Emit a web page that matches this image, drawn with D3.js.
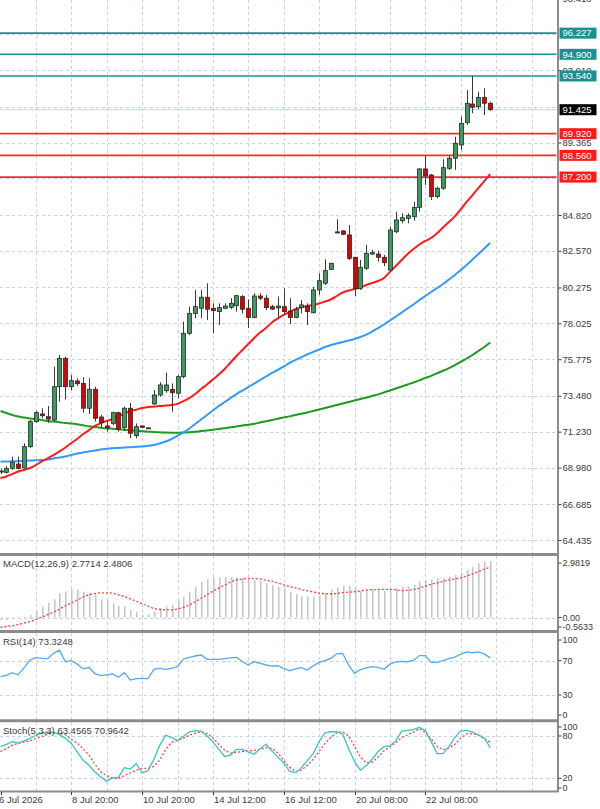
<!DOCTYPE html>
<html><head><meta charset="utf-8">
<script src="https://cdn.jsdelivr.net/npm/d3@7"></script>
<style>body{margin:0;background:#fff}svg{display:block;font-family:"Liberation Sans",Arial,sans-serif}</style>
</head><body><svg id="c" width="600" height="809"></svg>
<script>
// ---------------- DATA ----------------
const opens=[68.70,68.68,68.93,69.20,68.95,70.29,71.86,72.34,72.17,71.96,74.05,75.83,74.05,74.41,74.26,72.70,73.89,72.15,71.59,71.75,72.42,71.50,72.70,70.98,71.59,71.47,72.97,73.53,73.80,73.89,73.64,74.68,77.40,78.65,78.97,79.66,78.97,78.76,78.97,79.03,79.13,79.70,78.97,78.40,79.74,79.60,79.07,78.99,79.07,78.80,78.40,79.01,79.11,78.69,80.12,80.54,81.41,83.76,83.82,83.57,82.17,80.22,81.48,82.37,82.37,82.17,81.37,83.77,84.46,84.61,84.71,85.30,87.71,87.33,85.97,86.50,87.75,88.38,89.21,90.61,91.78,91.61,92.20,91.83];
const highs=[68.89,69.08,69.66,69.66,70.50,71.96,72.53,72.70,72.84,75.31,76.04,75.93,74.78,74.58,74.64,74.58,74.05,72.28,71.86,72.48,72.48,72.80,73.03,71.75,71.62,71.49,73.84,74.33,74.93,74.26,74.78,78.13,79.07,80.12,80.12,80.54,79.28,79.28,79.28,79.60,79.80,79.80,79.53,79.91,79.91,79.80,79.18,79.70,80.22,79.60,79.07,79.49,79.28,80.32,81.16,82.04,81.83,84.55,83.88,84.19,82.19,82.00,82.94,82.63,82.58,82.31,84.09,85.03,84.93,84.93,85.65,87.75,88.52,87.39,86.60,88.31,88.52,89.73,90.99,92.66,93.54,92.55,92.77,91.93];
const lows=[68.57,68.62,68.83,68.87,68.92,70.19,71.79,72.07,71.79,71.86,73.11,73.26,73.84,74.09,72.42,72.34,71.86,71.50,71.23,71.65,71.23,71.27,70.83,70.81,71.46,71.45,72.90,73.42,73.67,72.48,73.32,74.58,77.29,78.34,78.34,78.23,77.40,77.92,78.91,78.91,78.76,78.65,77.73,78.34,79.49,78.86,78.86,78.28,78.55,77.98,78.34,78.65,77.92,78.65,79.80,80.43,81.37,83.67,83.57,82.00,79.74,80.12,81.37,82.31,81.89,81.62,81.26,83.67,84.30,84.30,84.46,85.03,86.70,85.76,85.87,86.39,87.64,87.64,88.90,90.47,91.20,91.45,91.09,91.36];
const closes=[68.76,68.93,69.31,68.93,70.29,71.86,72.42,72.23,72.02,74.05,75.83,74.05,74.43,74.24,72.70,73.89,72.07,71.79,71.46,72.42,71.38,72.70,71.13,71.54,71.50,71.47,73.53,74.16,74.16,73.67,74.68,77.40,78.65,79.07,79.66,78.91,78.82,79.01,79.11,79.28,79.76,78.91,78.40,79.74,79.60,79.01,78.92,79.11,78.76,78.40,78.91,79.18,78.76,80.12,80.70,81.33,81.79,83.76,83.61,82.10,80.22,81.54,82.42,82.46,82.17,81.83,83.88,84.51,84.65,84.78,85.30,87.71,87.27,85.97,86.50,87.79,88.38,89.32,90.57,91.83,91.58,92.20,91.83,91.425];

const maRed=[68.32,68.42,68.57,68.73,68.83,68.95,69.14,69.36,69.55,69.77,69.99,70.24,70.52,70.77,71.08,71.33,71.59,71.77,71.90,72.02,72.21,72.36,72.53,72.61,72.71,72.78,72.80,72.84,72.87,72.90,72.97,73.15,73.34,73.59,73.91,74.19,74.50,74.82,75.16,75.57,75.98,76.35,76.73,77.11,77.45,77.73,78.08,78.33,78.55,78.74,78.92,79.03,79.11,79.18,79.27,79.39,79.52,79.74,79.96,80.08,80.18,80.27,80.43,80.56,80.68,80.87,81.25,81.62,82.00,82.37,82.69,82.97,83.19,83.38,83.67,84.04,84.38,84.73,85.17,85.64,86.07,86.51,86.95,87.39];
const maBlue=[69.35,69.36,69.37,69.39,69.40,69.42,69.43,69.45,69.48,69.55,69.61,69.67,69.77,69.86,69.92,69.99,70.05,70.11,70.16,70.19,70.21,70.24,70.26,70.28,70.30,70.34,70.39,70.49,70.61,70.77,70.96,71.18,71.43,71.71,71.99,72.28,72.56,72.84,73.09,73.34,73.59,73.81,74.03,74.25,74.47,74.69,74.91,75.10,75.32,75.54,75.73,75.91,76.07,76.23,76.38,76.54,76.67,76.76,76.85,76.95,77.04,77.17,77.32,77.51,77.73,77.95,78.20,78.45,78.70,78.96,79.21,79.49,79.74,79.99,80.24,80.49,80.77,81.06,81.37,81.68,82.03,82.37,82.72,83.06];
const maGreen=[72.53,72.40,72.28,72.18,72.12,72.06,72.01,71.96,71.90,71.86,71.82,71.77,71.74,71.69,71.63,71.57,71.52,71.47,71.44,71.41,71.38,71.35,71.32,71.28,71.25,71.23,71.21,71.19,71.17,71.16,71.16,71.17,71.19,71.22,71.27,71.30,71.35,71.40,71.45,71.50,71.55,71.62,71.66,71.72,71.81,71.88,71.96,72.04,72.12,72.19,72.28,72.36,72.43,72.53,72.62,72.71,72.81,72.90,73.00,73.09,73.19,73.28,73.37,73.47,73.57,73.69,73.81,73.94,74.06,74.19,74.31,74.45,74.60,74.73,74.89,75.05,75.22,75.41,75.60,75.82,76.04,76.29,76.54,76.82];

const macdHist=[-0.12,-0.12,-0.07,-0.02,0.03,0.13,0.37,0.54,0.72,0.90,1.20,1.27,1.39,1.38,1.27,1.23,1.11,0.90,0.87,0.70,0.57,0.57,0.37,0.29,0.13,0.16,0.29,0.46,0.54,0.62,0.90,1.03,1.27,1.52,1.77,1.88,1.98,1.98,1.98,1.98,1.98,1.93,1.93,1.85,1.80,1.69,1.60,1.52,1.39,1.27,1.16,1.06,1.03,1.03,1.06,1.20,1.36,1.49,1.56,1.56,1.44,1.32,1.36,1.39,1.36,1.32,1.36,1.44,1.49,1.52,1.60,1.77,1.85,1.88,1.93,1.93,2.01,2.10,2.21,2.34,2.50,2.67,2.75,2.77];
const macdSignal=[-0.48,-0.44,-0.40,-0.34,-0.27,-0.20,-0.10,0.02,0.14,0.27,0.42,0.58,0.72,0.87,1.00,1.12,1.18,1.22,1.22,1.20,1.12,1.03,0.92,0.81,0.68,0.56,0.45,0.40,0.38,0.38,0.42,0.50,0.62,0.78,0.95,1.12,1.30,1.45,1.60,1.75,1.85,1.90,1.93,1.92,1.89,1.84,1.79,1.70,1.61,1.52,1.46,1.38,1.32,1.26,1.20,1.18,1.16,1.19,1.23,1.25,1.27,1.31,1.35,1.37,1.39,1.39,1.39,1.37,1.33,1.34,1.38,1.45,1.55,1.64,1.71,1.78,1.85,1.90,1.96,2.05,2.15,2.26,2.38,2.48];
const rsi=[51.3,53,56,53.5,62,70.5,73.8,72.8,72.5,78.6,82.4,68.8,70,66,60.5,62,55,52.5,53.5,54.5,50.6,56,47.5,49.2,49.3,49,59.9,61,60,61,63,72,74,75.5,76.6,71.6,71.6,71.6,72.5,73.2,73.9,69,65,69,67,65,63.8,64.1,61,58.3,60.5,62,59.1,64,68,70,72.8,78,78.5,65,55.3,59.5,61.5,63,62.3,60,66,68.5,69.2,68.8,70.3,76,76,68,68,70,72.5,74.2,77.5,80.2,79.3,80.3,78,73.3];
const stochK=[65,68,72,70,73,76.5,81,84.5,85.5,85,82,76.7,69.5,57.5,45.5,38.5,29,22,16,20.5,21.4,35,33,41,27.5,31,47,67,81,78,73.5,79.5,86,87.5,87,80,72,61,51,53,61,61,57.5,54,62,68.5,59,50,42,30,28,35,45,55,72,84.5,86,86,82.5,62,44,31.5,38,47,58,64.8,66,73,87,88,89.5,92.3,88,72,55,55,65,78,87,88,85.5,81.5,77,63.5];
const stochD=[58,62,67,69.5,71.5,73,76.5,79.5,82.5,84.5,84,82,75.3,70,62,53,40,29,24,20,19.5,24,27.5,31.5,34.2,34.2,37,46,61,71,73.5,77,81,84,86,83.5,77,68,60,55.5,57,58,58.7,59.5,61,63.5,62.5,56,45,36,29.5,31.5,38,47,58,69.6,78,84.5,86,80,66,50,42,43,50,59,64.8,70.5,78,81.5,85.5,90.5,85,76,65,60.5,63,68,77,83,83,81,76,71];

const priceGrid=[98.410,96.160,93.910,91.615,89.365,87.115,84.820,82.570,80.275,78.025,75.775,73.480,71.230,68.980,66.685,64.435];
const priceTickLabels=[98.410,93.910,89.365,84.820,82.570,80.275,78.025,75.775,73.480,71.230,68.980,66.685,64.435];
const timeLabels=["6 Jul 2026","8 Jul 20:00","10 Jul 20:00","14 Jul 12:00","16 Jul 12:00","20 Jul 08:00","22 Jul 08:00"];
const timeLabelBars=[0,12,24,36,48,60,72];
const gridBars=[6,12,18,24,30,36,42,48,54,60,66,72,78,84,90];
const tealLevels=[96.227,94.900,93.540];
const redLevels=[89.920,88.560,87.200];
const lastPrice=91.425;
const macdTicks=[2.9819,0.00,-0.5633];
const rsiTicks=[100,70,30,0];
const stochTicks=[100,80,20,0];
const macdLabel="MACD(12,26,9) 2.7714 2.4806";
const rsiLabel="RSI(14) 73.3248";
const stochLabel="Stoch(5,3,3) 63.4565 70.9642";

// ---------------- DRAW ----------------
const svg=d3.select('#c');
const AX=557.5;
const gridCol="#c3d2e4", axisCol="#8c8c8c", txtCol="#3c3c3c";
const x=d3.scaleLinear().domain([0,90]).range([0.5,0.5+90*5.9]);
const yMain=d3.scaleLinear().domain([64.435,84.820]).range([540,215]);
const panels={
  main:{top:0,bottom:553},
  macd:{top:556,bottom:630},
  rsi:{top:633,bottom:720},
  stoch:{top:722,bottom:791.5}
};
const yMacd=d3.scaleLinear().domain([-0.5633,2.9819]).range([629,557]);
const yRsi=d3.scaleLinear().domain([0,100]).range([720.7,635]);
const ySto=d3.scaleLinear().domain([0,100]).range([792.4,721.9]);

svg.append('rect').attr('width',600).attr('height',809).attr('fill','#fff');
const defs=svg.append('defs');
Object.entries(panels).forEach(([k,p])=>{
  defs.append('clipPath').attr('id','clip-'+k).append('rect')
    .attr('x',0).attr('y',p.top).attr('width',AX-1).attr('height',p.bottom-p.top);
});

// vertical grid in all panels
Object.values(panels).forEach(p=>{
  svg.append('g').selectAll('line').data(gridBars).join('line')
    .attr('x1',d=>Math.round(x(d))+0.5).attr('x2',d=>Math.round(x(d))+0.5)
    .attr('y1',p.top).attr('y2',p.bottom)
    .attr('stroke',gridCol).attr('stroke-dasharray','3,3').attr('stroke-width',1);
});

// main horizontal grid
const gMain=svg.append('g').attr('clip-path','url(#clip-main)');
gMain.selectAll('line.hg').data(priceGrid).join('line').attr('class','hg')
  .attr('x1',0).attr('x2',AX).attr('y1',d=>Math.round(yMain(d))+0.5).attr('y2',d=>Math.round(yMain(d))+0.5)
  .attr('stroke',gridCol).attr('stroke-dasharray','3,3');

// level lines
gMain.append('line').attr('x1',0).attr('x2',AX).attr('y1',yMain(lastPrice)).attr('y2',yMain(lastPrice))
  .attr('stroke','#c4d4e4').attr('stroke-width',1);
gMain.selectAll('line.teal').data(tealLevels).join('line').attr('class','teal')
  .attr('x1',0).attr('x2',AX).attr('y1',d=>yMain(d)).attr('y2',d=>yMain(d))
  .attr('stroke','#1f9090').attr('stroke-width',1.6);
gMain.selectAll('line.redl').data(redLevels).join('line').attr('class','redl')
  .attr('x1',0).attr('x2',AX).attr('y1',d=>yMain(d)).attr('y2',d=>yMain(d))
  .attr('stroke','#ff2a2a').attr('stroke-width',1.8);

// moving averages
const idx=d3.range(closes.length);
const maLine=arr=>d3.line().x(i=>x(i)).y(i=>yMain(arr[i])).curve(d3.curveMonotoneX)(idx);
gMain.append('path').attr('d',maLine(maGreen)).attr('fill','none').attr('stroke','#1e9a1e').attr('stroke-width',2);
gMain.append('path').attr('d',maLine(maBlue)).attr('fill','none').attr('stroke','#3399ff').attr('stroke-width',2);
gMain.append('path').attr('d',maLine(maRed)).attr('fill','none').attr('stroke','#ff1a1a').attr('stroke-width',2);

// candles
const cg=gMain.append('g');
idx.forEach(i=>{
  const cx=Math.round(x(i))+0.5;
  const o=opens[i],c=closes[i],h=highs[i],l=lows[i];
  cg.append('line').attr('x1',cx).attr('x2',cx).attr('y1',yMain(h)).attr('y2',yMain(l))
    .attr('stroke','#3a3a3a').attr('stroke-width',1);
  const top=yMain(Math.max(o,c)), bot=yMain(Math.min(o,c));
  const bull=c>o, doji=Math.abs(c-o)<0.005;
  cg.append('rect').attr('x',cx-2).attr('y',top).attr('width',4).attr('height',Math.max(1,bot-top))
    .attr('fill',doji?'#333':(bull?'#3a9b5e':'#e00000')).attr('stroke','#2a2a2a').attr('stroke-width',0.8);
});

// right axis
svg.append('line').attr('x1',AX+0.5).attr('x2',AX+0.5).attr('y1',0).attr('y2',792).attr('stroke',axisCol).attr('stroke-width',2);
const axMain=svg.append('g').attr('transform',`translate(${AX+1},0)`)
  .call(d3.axisRight(yMain).tickValues(priceTickLabels).tickSize(3).tickFormat(d=>d.toFixed(3)));
axMain.select('.domain').remove();
axMain.selectAll('text').attr('fill',txtCol).attr('font-size','9.5px').attr('x',4);
axMain.selectAll('line').attr('stroke',txtCol);

// level tags
function tag(v,bg){
  const yy=yMain(v);
  const g=svg.append('g');
  g.append('rect').attr('x',AX+2).attr('y',yy-5.5).attr('width',37).attr('height',11).attr('fill',bg);
  g.append('text').attr('x',AX+5).attr('y',yy).attr('dy','0.35em').attr('fill','#fff')
    .attr('font-size','9.5px').text(v.toFixed(3));
}
tealLevels.forEach(v=>tag(v,'#1a9090'));
redLevels.forEach(v=>tag(v,'#ff1a1a'));
tag(lastPrice,'#000');

// panel separators
[[554.5,3],[631.5,3],[720.8,3],[791.5,2]].forEach(([yy,w])=>{
  svg.append('line').attr('x1',0).attr('x2',AX+1).attr('y1',yy).attr('y2',yy).attr('stroke',axisCol).attr('stroke-width',w);
});

function panelTicks(ticks,scale,p,fmt,hline,pad){
  const g=svg.append('g');
  ticks.forEach(t=>{
    const yy=scale(t);
    const ly=Math.min(Math.max(yy,p.top+pad[0]),p.bottom-pad[1]);
    g.append('line').attr('x1',AX+1).attr('x2',AX+4).attr('y1',ly).attr('y2',ly).attr('stroke',txtCol);
    g.append('text').attr('x',AX+5).attr('y',ly).attr('dy','0.35em').attr('fill',txtCol).attr('font-size','9px').text(fmt(t));
  });
  hline.forEach(h=>{
    svg.append('line').attr('x1',0).attr('x2',AX).attr('y1',Math.round(scale(h))+0.5).attr('y2',Math.round(scale(h))+0.5)
      .attr('stroke',gridCol).attr('stroke-dasharray','3,3');
  });
}

// MACD
panelTicks(macdTicks,yMacd,panels.macd,d=>d===0?'0.00':d.toFixed(4),[0],[7,3]);
const gM=svg.append('g').attr('clip-path','url(#clip-macd)');
gM.selectAll('rect').data(idx).join('rect')
  .attr('x',i=>Math.round(x(i))).attr('width',1.5)
  .attr('y',i=>Math.min(yMacd(0),yMacd(macdHist[i]))).attr('height',i=>Math.abs(yMacd(0)-yMacd(macdHist[i])))
  .attr('fill','#c4c4c4');
gM.append('path').attr('d',d3.line().x(i=>x(i)).y(i=>yMacd(macdSignal[i])).curve(d3.curveMonotoneX)(idx))
  .attr('fill','none').attr('stroke','#ff3b3b').attr('stroke-width',1.3).attr('stroke-dasharray','2,2');
svg.append('text').attr('x',3).attr('y',563.5).attr('dy','0.35em').attr('font-size','9.5px').attr('fill',txtCol).text(macdLabel);

// RSI
panelTicks(rsiTicks,yRsi,panels.rsi,d=>String(d),[70,30],[7,5]);
const gR=svg.append('g').attr('clip-path','url(#clip-rsi)');
gR.append('path').attr('d',d3.line().x(i=>x(i)).y(i=>yRsi(rsi[i]))(idx))
  .attr('fill','none').attr('stroke','#55aaf5').attr('stroke-width',1.3);
svg.append('text').attr('x',3).attr('y',642).attr('dy','0.35em').attr('font-size','9.5px').attr('fill',txtCol).text(rsiLabel);

// Stoch
panelTicks(stochTicks,ySto,panels.stoch,d=>String(d),[80,20],[5,3.5]);
const gS=svg.append('g').attr('clip-path','url(#clip-stoch)');
gS.append('path').attr('d',d3.line().x(i=>x(i)).y(i=>ySto(stochD[i]))(idx))
  .attr('fill','none').attr('stroke','#ff4040').attr('stroke-width',1.3).attr('stroke-dasharray','2,2');
gS.append('path').attr('d',d3.line().x(i=>x(i)).y(i=>ySto(stochK[i]))(idx))
  .attr('fill','none').attr('stroke','#3cc3c3').attr('stroke-width',1.3);
svg.append('text').attr('x',3).attr('y',731).attr('dy','0.35em').attr('font-size','9.5px').attr('fill',txtCol).text(stochLabel);

// time labels
svg.append('g').selectAll('text').data(timeLabels).join('text')
  .attr('x',(d,k)=>k===0?-1:Math.round(x(timeLabelBars[k]))+1).attr('y',800).attr('dy','0.35em')
  .attr('font-size','9.5px').attr('fill',txtCol).text(d=>d);
svg.append('g').selectAll('line').data(timeLabelBars).join('line')
  .attr('x1',d=>Math.round(x(d))+0.5).attr('x2',d=>Math.round(x(d))+0.5).attr('y1',792).attr('y2',795).attr('stroke',txtCol);
</script></body></html>
